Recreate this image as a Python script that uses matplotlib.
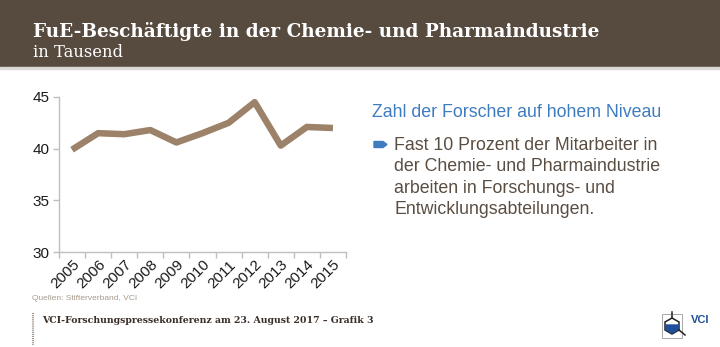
import matplotlib.pyplot as plt
import matplotlib.patches as mpatches
from matplotlib.ticker import FixedLocator, NullFormatter

years = ['2005', '2006', '2007', '2008', '2009', '2010',
         '2011', '2012', '2013', '2014', '2015']
staff = [39.9, 41.5, 41.4, 41.8, 40.6, 41.5, 42.5, 44.5, 40.3, 42.1, 42.0]
yticks = [30, 35, 40, 45]

header_col = '#574b40'
line_col = '#9c8268'
text_col = '#5a4d42'
blue = '#3f7cbf'
axis_col = '#bfbfbf'

W, H = 720, 347


def fx(px):
    return px / W


def fy(py):
    return 1 - py / H


plt.rcParams['font.family'] = 'Liberation Sans'

fig = plt.figure(figsize=(7.2, 3.47), dpi=100)
fig.patch.set_facecolor('white')

# header band
fig.patches.append(mpatches.Rectangle((0, fy(67)), 1, 67 / H,
                                      transform=fig.transFigure,
                                      color=header_col, zorder=0))
fig.patches.append(mpatches.Rectangle((0, fy(69)), 1, 2 / H,
                                      transform=fig.transFigure,
                                      color='#dcdad6', zorder=0))
fig.text(fx(33), fy(37), 'FuE-Beschäftigte in der Chemie- und Pharmaindustrie',
         family='DejaVu Serif', weight='bold', fontsize=13.3, color='white',
         va='baseline')
fig.text(fx(33), fy(57), 'in Tausend', family='DejaVu Serif',
         fontsize=11.8, color='white', va='baseline')

# line chart
ax = fig.add_axes([fx(59), fy(252), 287 / W, 155 / H])
x = list(range(len(years)))
ax.plot(x, staff, color=line_col, linewidth=4.7, solid_joinstyle='round',
        solid_capstyle='butt')
ax.set_xlim(-0.5, len(years) - 0.5)
ax.set_ylim(30, 45)
ax.set_yticks(yticks)
ax.set_yticklabels([str(v) for v in yticks], fontsize=11, color='#1a1a1a')
ax.xaxis.set_major_locator(FixedLocator([i - 0.5 for i in range(len(years) + 1)]))
ax.xaxis.set_major_formatter(NullFormatter())
ax.xaxis.set_minor_locator(FixedLocator(x))
ax.set_xticklabels(years, minor=True, rotation=45, ha='right',
                   rotation_mode='anchor', fontsize=11, color='#1a1a1a')
ax.tick_params(axis='x', which='minor', length=0, pad=4)
ax.tick_params(axis='both', which='major', length=4, color=axis_col, width=1)
ax.tick_params(axis='y', pad=3)
for side in ['top', 'right']:
    ax.spines[side].set_visible(False)
for side in ['left', 'bottom']:
    ax.spines[side].set_color(axis_col)
    ax.spines[side].set_linewidth(1)

fig.text(fx(32), fy(300), 'Quellen: Stifterverband, VCI',
         fontsize=6, color='#a89a8c', va='baseline')

# right hand text block
fig.text(fx(372), fy(117), 'Zahl der Forscher auf hohem Niveau',
         fontsize=12.8, color=blue, va='baseline')
arrow = [(374, 141.5), (383, 141.5), (387, 144.5), (383, 147.5), (374, 147.5)]
fig.patches.append(mpatches.Polygon([(fx(a), fy(b)) for a, b in arrow],
                                    closed=True, color=blue,
                                    transform=fig.transFigure))
bullet = ['Fast 10 Prozent der Mitarbeiter in',
          'der Chemie- und Pharmaindustrie',
          'arbeiten in Forschungs- und',
          'Entwicklungsabteilungen.']
for i, line in enumerate(bullet):
    fig.text(fx(394), fy(150 + i * 21.3), line, fontsize=12.8,
             color=text_col, va='baseline')

# footer
fig.add_artist(plt.Line2D([fx(33), fx(33)], [fy(313), fy(345)],
                          color='#9a8f86', linewidth=1.5, linestyle=(0, (0.5, 0.5))))
fig.text(fx(42), fy(323),
         'VCI-Forschungspressekonferenz am 23. August 2017 – Grafik 3',
         family='DejaVu Serif', weight='bold', fontsize=6.75, color='#3a2f28',
         va='baseline')

# VCI logo: framed hexagon with blue lower half
fig.patches.append(mpatches.Rectangle((fx(662), fy(338)), 20 / W, 24 / H,
                                      transform=fig.transFigure, fill=False,
                                      edgecolor='#9a9a9a', linewidth=0.6))
hexagon = [(672, 318), (679, 322), (679, 330), (672, 334), (665, 330), (665, 322)]
fig.patches.append(mpatches.Polygon([(fx(a), fy(b)) for a, b in hexagon],
                                    closed=True, facecolor='none',
                                    edgecolor='#222222', linewidth=1.1,
                                    transform=fig.transFigure))
lower = [(665.8, 325), (678.2, 325), (678.2, 329.5), (672, 333), (665.8, 329.5)]
fig.patches.append(mpatches.Polygon([(fx(a), fy(b)) for a, b in lower],
                                    closed=True, color='#1f4e9a',
                                    transform=fig.transFigure))
fig.add_artist(plt.Line2D([fx(672), fx(672)], [fy(312), fy(318)],
                          color='#222222', linewidth=1.1))
fig.add_artist(plt.Line2D([fx(679), fx(685)], [fy(330), fy(335)],
                          color='#222222', linewidth=1.1))
fig.text(fx(691), fy(323), 'VCI', fontsize=8, weight='bold',
         color='#1f4e9a', va='baseline')

fig.savefig('out.png', dpi=100)
